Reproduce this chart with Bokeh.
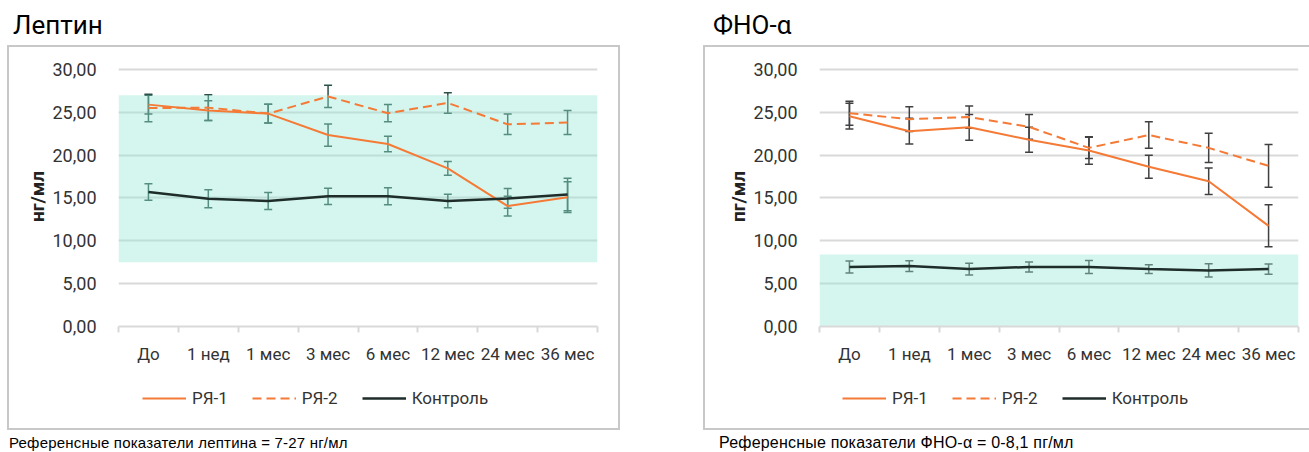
import numpy as np
from bokeh.plotting import figure
from bokeh.models import (Range1d, FixedTicker, ColumnDataSource, Whisker, TeeHead,
                          Legend, LegendItem, Div, Spacer)
from bokeh.layouts import row, column
from bokeh.embed import file_html
from bokeh.resources import INLINE

categories = ["До", "1 нед", "1 мес", "3 мес", "6 мес", "12 мес", "24 мес", "36 мес"]
y_ticks = [0, 5, 10, 15, 20, 25, 30]
y_tick_labels = ["0,00", "5,00", "10,00", "15,00", "20,00", "25,00", "30,00"]
series_names = ["РЯ-1", "РЯ-2", "Контроль"]

leptin_ry1 = [25.9, 25.2, 24.85, 22.35, 21.3, 18.45, 14.05, 15.1]
leptin_ry1_err = [1.1, 1.15, 1.1, 1.3, 0.9, 0.8, 1.15, 1.8]
leptin_ry2 = [25.5, 25.55, 24.85, 26.85, 24.9, 26.1, 23.6, 23.8]
leptin_ry2_err = [1.6, 1.5, 1.1, 1.3, 1.0, 1.2, 1.2, 1.4]
leptin_ctrl = [15.7, 14.9, 14.65, 15.2, 15.2, 14.65, 14.95, 15.4]
leptin_ctrl_err = [0.95, 1.05, 1.0, 0.95, 1.0, 0.8, 1.15, 1.9]
leptin_ref = [7.5, 27.0]

tnf_ry1 = [24.55, 22.8, 23.25, 21.8, 20.55, 18.65, 16.95, 11.75]
tnf_ry1_err = [1.5, 1.5, 1.5, 1.45, 1.6, 1.35, 1.55, 2.45]
tnf_ry2 = [24.9, 24.2, 24.45, 23.3, 20.85, 22.35, 20.85, 18.75]
tnf_ry2_err = [1.4, 1.45, 1.3, 1.45, 1.25, 1.55, 1.7, 2.5]
tnf_ctrl = [6.95, 7.05, 6.7, 6.95, 6.95, 6.7, 6.55, 6.7]
tnf_ctrl_err = [0.7, 0.62, 0.68, 0.58, 0.75, 0.5, 0.78, 0.6]
tnf_ref = [0.0, 8.4]

ORANGE = "#F47A36"
DARK = "#1E2D2A"
GRID = "#d9d9d9"
FONT = "Roboto"
STYLES = [dict(line_color=ORANGE, line_width=2),
          dict(line_color=ORANGE, line_width=2, line_dash="9 5"),
          dict(line_color=DARK, line_width=2.5)]


def make_chart(title, unit, note, note_size, ry1, ry1e, ry2, ry2e, ctrl, ctrle, ref,
               fig_w, mb_left, mb_right, err_color, title_pad, note_pad, legend_x, frame_shadow):
    n = len(categories)
    xs = [i + 0.5 for i in range(n)]
    p = figure(width=fig_w, height=325, x_range=Range1d(0, n), y_range=Range1d(0, 30.35),
               output_backend="svg", toolbar_location=None,
               min_border_left=mb_left, min_border_right=mb_right,
               min_border_top=21, min_border_bottom=44)
    p.outline_line_color = None
    p.border_fill_color = None
    p.background_fill_color = None
    p.xgrid.visible = False
    p.ygrid.ticker = FixedTicker(ticks=y_ticks)
    p.ygrid.grid_line_color = GRID
    p.ygrid.grid_line_width = 2

    # reference band
    p.quad(left=[0], right=[n], bottom=[ref[0]], top=[ref[1]],
           fill_color="#96e8d4", fill_alpha=0.4, line_color=None)

    yax = p.yaxis[0]
    yax.ticker = FixedTicker(ticks=y_ticks)
    yax.major_label_overrides = {t: l for t, l in zip(y_ticks, y_tick_labels)}
    yax.axis_line_color = None
    yax.major_tick_line_color = None
    yax.minor_tick_line_color = None
    yax.major_label_standoff = 16
    yax.major_label_text_font = FONT
    yax.major_label_text_font_size = "18px"
    yax.major_label_text_color = "#333333"
    yax.axis_label = unit
    yax.axis_label_text_font = FONT
    yax.axis_label_text_font_style = "bold"
    yax.axis_label_text_font_size = "19px"
    yax.axis_label_text_color = "#222222"
    yax.axis_label_standoff = 0

    xax = p.xaxis[0]
    xax.ticker = FixedTicker(ticks=xs, minor_ticks=list(range(n + 1)))
    xax.major_label_overrides = {x: c for x, c in zip(xs, categories)}
    xax.axis_line_color = GRID
    xax.axis_line_width = 2
    xax.major_tick_line_color = None
    xax.major_tick_out = 0
    xax.major_tick_in = 0
    xax.minor_tick_line_color = GRID
    xax.minor_tick_line_width = 2
    xax.minor_tick_out = 6
    xax.minor_tick_in = 0
    xax.major_label_standoff = 11
    xax.major_label_text_font = FONT
    xax.major_label_text_font_size = "17px"
    xax.major_label_text_color = "#333333"

    for vals, st in zip((ry1, ry2, ctrl), STYLES):
        p.line(xs, vals, **st)

    for vals, errs in ((ry1, ry1e), (ry2, ry2e), (ctrl, ctrle)):
        src = ColumnDataSource(dict(x=xs, upper=[v + e for v, e in zip(vals, errs)],
                                    lower=[v - e for v, e in zip(vals, errs)]))
        w = Whisker(base="x", upper="upper", lower="lower", source=src,
                    line_color=err_color, line_width=1.5,
                    upper_head=TeeHead(size=8, line_color=err_color, line_width=1.5),
                    lower_head=TeeHead(size=8, line_color=err_color, line_width=1.5))
        p.add_layout(w)

    # legend strip (inside the same chart frame); placeholder renderers carry no visible points
    pl = figure(width=fig_w, height=60, x_range=Range1d(0, 1), y_range=Range1d(0, 1),
                output_backend="svg", toolbar_location=None,
                x_axis_type=None, y_axis_type=None,
                min_border_left=0, min_border_right=0, min_border_top=0, min_border_bottom=0)
    pl.outline_line_color = None
    pl.border_fill_color = None
    pl.background_fill_color = None
    pl.grid.visible = False
    rends = [pl.line(x=[float("nan")], y=[float("nan")], **st) for st in STYLES]
    legend = Legend(items=[LegendItem(label=nm, renderers=[r]) for nm, r in zip(series_names, rends)],
                    orientation="horizontal", location=(legend_x, 22),
                    glyph_width=44, glyph_height=20, label_standoff=6, spacing=24,
                    padding=0, margin=0, border_line_color=None, background_fill_alpha=0,
                    label_text_font=FONT, label_text_font_size="17px",
                    label_text_color="#333333")
    pl.add_layout(legend)

    box = column(p, pl, spacing=0, styles={"box-shadow": frame_shadow})

    t = Div(text=f'<div style="padding:12px 0 0 {title_pad}px;font-family:Roboto;font-size:26px;line-height:26px;color:#000;white-space:nowrap">{title}</div>',
            width=fig_w, height=45, margin=(0, 0, 0, 0))
    nt = Div(text=f'<div style="padding:5px 0 0 {note_pad}px;font-family:\'Liberation Sans\';font-size:{note_size};letter-spacing:0.2px;line-height:16px;color:#000;white-space:nowrap">{note}</div>',
             width=fig_w, height=22, margin=(0, 0, 0, 0))
    return column(t, box, nt, spacing=0)


left = make_chart("Лептин", "нг/мл", "Референсные показатели лептина = 7-27 нг/мл", "15px",
                  leptin_ry1, leptin_ry1_err, leptin_ry2, leptin_ry2_err,
                  leptin_ctrl, leptin_ctrl_err, leptin_ref,
                  613, 111, 23, "#2A5048", 6, 2, 24, "inset 0 0 0 2px #c8c8c8")
right = make_chart("ФНО-α", "пг/мл", "Референсные показатели ФНО-α = 0-8,1 пг/мл", "16px",
                   tnf_ry1, tnf_ry1_err, tnf_ry2, tnf_ry2_err,
                   tnf_ctrl, tnf_ctrl_err, tnf_ref,
                   606, 116, 11, "#404040", 10, 16, 23,
                   "inset 2px 0 0 0 #c8c8c8, inset 0 2px 0 0 #c8c8c8, inset 0 -2px 0 0 #c8c8c8")

page = row(Spacer(width=7, height=10), left, Spacer(width=83, height=10), right, spacing=0)
open("out.html", "w").write(file_html(page, INLINE))
